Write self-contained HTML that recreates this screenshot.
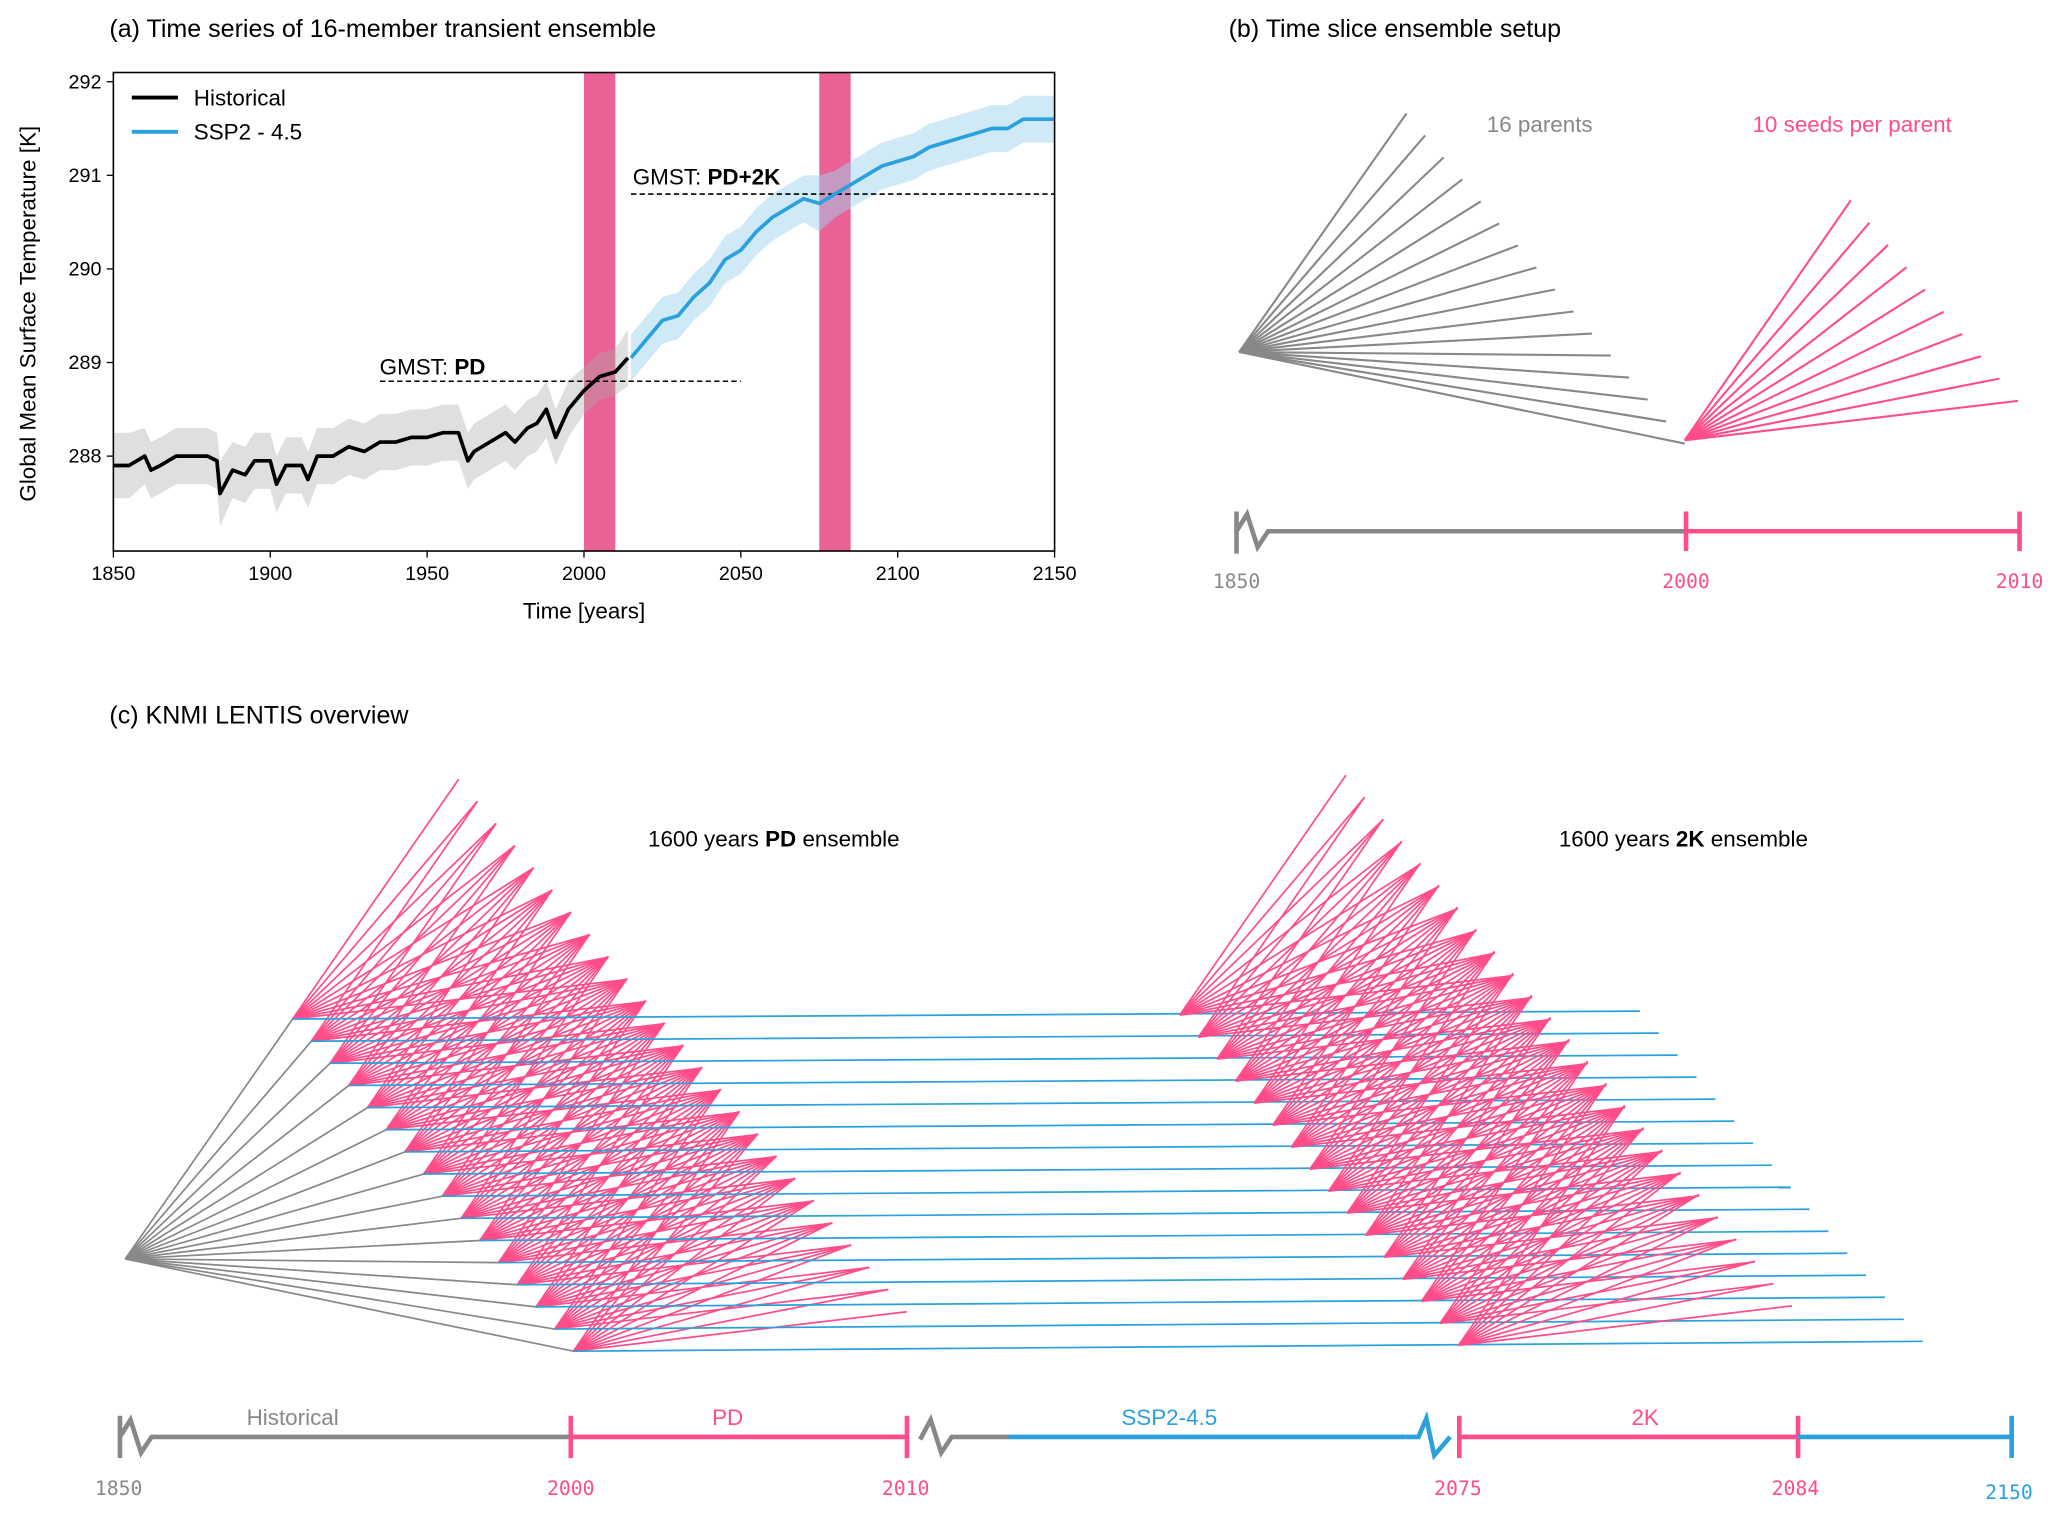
<!DOCTYPE html>
<html><head><meta charset="utf-8"><style>
html,body{margin:0;padding:0;background:#fff}
svg{display:block;font-family:"Liberation Sans",sans-serif}
.mono{font-family:"DejaVu Sans Mono","Liberation Mono",monospace}
</style></head><body>
<svg id="fig" width="2067" height="1514" viewBox="0 0 1568 1148.5" xmlns="http://www.w3.org/2000/svg">
<g id="pa">
<text x="83" y="28" font-size="19">(a) Time series of 16-member transient ensemble</text>
<g id="bands"></g>
<g id="series"></g>
<rect x="86" y="55" width="714" height="363" fill="none" stroke="#000" stroke-width="1.2"/>
<g id="axes"></g>
<text transform="translate(27,238) rotate(-90)" text-anchor="middle" font-size="17">Global Mean Surface Temperature [K]</text>
<text x="443" y="469" text-anchor="middle" font-size="17">Time [years]</text>
<g>
<line x1="100" y1="74" x2="135" y2="74" stroke="#000" stroke-width="3"/>
<text x="147" y="80" font-size="17">Historical</text>
<line x1="100" y1="100" x2="135" y2="100" stroke="#2aa0dc" stroke-width="3"/>
<text x="147" y="106" font-size="17">SSP2 - 4.5</text>
</g>
<text x="288" y="284" font-size="17">GMST: <tspan font-weight="bold">PD</tspan></text>
<text x="480" y="140" font-size="17">GMST: <tspan font-weight="bold">PD+2K</tspan></text>
</g>
<g id="pb">
<text x="932" y="28" font-size="19">(b) Time slice ensemble setup</text>
<text x="1168" y="100" text-anchor="middle" font-size="17" fill="#888">16 parents</text>
<text x="1405" y="100" text-anchor="middle" font-size="17" fill="#ff4d8a">10 seeds per parent</text>
<g id="bfan"></g>
<g>
<polyline points="938,420 938,388 938,403 946,390 954,415 962,403 978,403 1278,403" fill="none" stroke="#888" stroke-width="3.5"/>
<line x1="1278" y1="403" x2="1532" y2="403" stroke="#ff4d8a" stroke-width="3.5"/>
<line x1="1279" y1="388" x2="1279" y2="418" stroke="#ff4d8a" stroke-width="3.5"/>
<line x1="1532" y1="388" x2="1532" y2="418" stroke="#ff4d8a" stroke-width="3.5"/>
<text class="mono" x="938" y="446" text-anchor="middle" font-size="15" fill="#888">1850</text>
<text class="mono" x="1279" y="446" text-anchor="middle" font-size="15" fill="#ff4d8a">2000</text>
<text class="mono" x="1532" y="446" text-anchor="middle" font-size="15" fill="#ff4d8a">2010</text>
</g>
</g>
<g id="pc">
<text x="83" y="549" font-size="19">(c) KNMI LENTIS overview</text>
<text x="587" y="642" text-anchor="middle" font-size="17">1600 years <tspan font-weight="bold">PD</tspan> ensemble</text>
<text x="1277" y="642" text-anchor="middle" font-size="17">1600 years <tspan font-weight="bold">2K</tspan> ensemble</text>
<g id="cfan"></g>
<g>
<polyline points="91,1106 91,1074 91,1090 99,1077 107,1102 115,1090 131,1090 433,1090" fill="none" stroke="#888" stroke-width="3.5"/>
<line x1="433" y1="1090" x2="688" y2="1090" stroke="#ff4d8a" stroke-width="3.5"/>
<line x1="433" y1="1074" x2="433" y2="1106" stroke="#ff4d8a" stroke-width="3.5"/>
<line x1="688" y1="1074" x2="688" y2="1106" stroke="#ff4d8a" stroke-width="3.5"/>
<polyline points="698,1092 706,1077 714,1102 722,1090 765,1090" fill="none" stroke="#888" stroke-width="3.5"/>
<line x1="765" y1="1090" x2="1066" y2="1090" stroke="#2aa0dc" stroke-width="3.5"/>
<polyline points="1066,1090 1076,1090 1082,1076 1088,1104 1100,1090" fill="none" stroke="#2aa0dc" stroke-width="3.5"/>
<line x1="1107" y1="1090" x2="1364" y2="1090" stroke="#ff4d8a" stroke-width="3.5"/>
<line x1="1107" y1="1074" x2="1107" y2="1106" stroke="#ff4d8a" stroke-width="3.5"/>
<line x1="1364" y1="1074" x2="1364" y2="1106" stroke="#ff4d8a" stroke-width="3.5"/>
<line x1="1364" y1="1090" x2="1526" y2="1090" stroke="#2aa0dc" stroke-width="3.5"/>
<line x1="1526" y1="1074" x2="1526" y2="1106" stroke="#2aa0dc" stroke-width="3.5"/>
<text x="222" y="1081" text-anchor="middle" font-size="17" fill="#888">Historical</text>
<text x="552" y="1081" text-anchor="middle" font-size="17" fill="#ff4d8a">PD</text>
<text x="887" y="1081" text-anchor="middle" font-size="17" fill="#2aa0dc">SSP2-4.5</text>
<text x="1248" y="1081" text-anchor="middle" font-size="17" fill="#ff4d8a">2K</text>
<text class="mono" x="90" y="1134" text-anchor="middle" font-size="15" fill="#888">1850</text>
<text class="mono" x="433" y="1134" text-anchor="middle" font-size="15" fill="#ff4d8a">2000</text>
<text class="mono" x="687" y="1134" text-anchor="middle" font-size="15" fill="#ff4d8a">2010</text>
<text class="mono" x="1106" y="1134" text-anchor="middle" font-size="15" fill="#ff4d8a">2075</text>
<text class="mono" x="1362" y="1134" text-anchor="middle" font-size="15" fill="#ff4d8a">2084</text>
<text class="mono" x="1524" y="1137" text-anchor="middle" font-size="15" fill="#2aa0dc">2150</text>
</g>
</g>
</svg>
<script>
const histYears=[1850,1855,1860,1862,1865,1870,1875,1880,1883,1884,1888,1892,1895,1900,1902,1905,1910,1912,1915,1920,1925,1930,1935,1940,1945,1950,1955,1960,1963,1965,1970,1975,1978,1982,1985,1988,1991,1995,2000,2005,2010,2014];
const histMean=[287.9,287.9,288.0,287.85,287.9,288.0,288.0,288.0,287.95,287.6,287.85,287.8,287.95,287.95,287.7,287.9,287.9,287.75,288.0,288.0,288.1,288.05,288.15,288.15,288.2,288.2,288.25,288.25,287.95,288.05,288.15,288.25,288.15,288.3,288.35,288.5,288.2,288.5,288.7,288.85,288.9,289.05];
const histSpread=[0.35,0.35,0.3,0.3,0.3,0.3,0.3,0.3,0.3,0.35,0.3,0.3,0.3,0.3,0.3,0.3,0.3,0.3,0.3,0.3,0.3,0.3,0.3,0.3,0.3,0.3,0.3,0.3,0.3,0.3,0.3,0.3,0.3,0.3,0.3,0.3,0.3,0.3,0.25,0.25,0.25,0.3];
const sspYears=[2015,2020,2025,2030,2035,2040,2045,2050,2055,2060,2065,2070,2075,2080,2085,2090,2095,2100,2105,2110,2115,2120,2125,2130,2135,2140,2145,2150];
const sspMean=[289.05,289.25,289.45,289.5,289.7,289.85,290.1,290.2,290.4,290.55,290.65,290.75,290.7,290.8,290.9,291.0,291.1,291.15,291.2,291.3,291.35,291.4,291.45,291.5,291.5,291.6,291.6,291.6];
const sspSpread=[0.25,0.25,0.25,0.25,0.25,0.25,0.25,0.25,0.25,0.25,0.25,0.25,0.3,0.25,0.25,0.25,0.25,0.25,0.25,0.25,0.25,0.25,0.25,0.25,0.25,0.25,0.25,0.25];
const xTicks=[1850,1900,1950,2000,2050,2100,2150];
const yTicks=[288,289,290,291,292];
const bandSpans=[[2000,2010],[2075,2085]];
const gmstLines=[[1935,2050,288.8],[2015,2150,290.8]];
const nParents=16, nSeeds=10;

const NS='http://www.w3.org/2000/svg';
const X=y=>86+(y-1850)*(714/300);
const Y=v=>346-(v-288)*71;
function mk(tag,parent,at){const e=document.createElementNS(NS,tag);for(const k in at)e.setAttribute(k,at[k]);parent.appendChild(e);return e;}
const bands=document.getElementById('bands'), ser=document.getElementById('series'), ax=document.getElementById('axes');
bandSpans.forEach(b=>{const r=mk('rect',bands,{x:X(b[0]),y:55,width:X(b[1])-X(b[0]),height:363,fill:'#e8508a',opacity:0.9});

});
function area(years,mean,spr,fill,op){
 let d='';years.forEach((t,i)=>{d+=(i?'L':'M')+X(t)+','+Y(mean[i]+spr[i]);});
 for(let i=years.length-1;i>=0;i--)d+='L'+X(years[i])+','+Y(mean[i]-spr[i]);
 const p=mk('path',ser,{d:d+'Z',fill:fill,opacity:op});
 
 }
function line(years,mean,col,w){
 const p=mk('polyline',ser,{points:years.map((t,i)=>X(t)+','+Y(mean[i])).join(' '),fill:'none',stroke:col,'stroke-width':w,'stroke-linejoin':'round'});
 
 }
area(histYears,histMean,histSpread,'#aaa',0.38);
area(sspYears,sspMean,sspSpread,'#9fd3f0',0.5);
gmstLines.forEach(g=>{const l=mk('line',ser,{x1:X(g[0]),x2:X(g[1]),y1:Y(g[2]),y2:Y(g[2]),stroke:'#000','stroke-width':1.2,'stroke-dasharray':'4,2.5'});

});
line(histYears,histMean,'#000',2.8);
line(sspYears,sspMean,'#2aa0dc',2.8);
xTicks.forEach(t=>{mk('line',ax,{x1:X(t),x2:X(t),y1:418,y2:423,stroke:'#000'});
const tx=mk('text',ax,{x:X(t),y:440,'text-anchor':'middle','font-size':15});tx.textContent=t;

});
yTicks.forEach(t=>{mk('line',ax,{x1:81,x2:86,y1:Y(t),y2:Y(t),stroke:'#000'});
const tx=mk('text',ax,{x:77,y:Y(t)+5,'text-anchor':'end','font-size':15});tx.textContent=t;

});

// panel b
const bf=document.getElementById('bfan');
for(let i=0;i<nParents;i++){const l=mk('line',bf,{x1:940,y1:267,x2:1067+14.07*i,y2:86+16.7*i,stroke:'#888','stroke-width':1.6});

}
for(let j=0;j<nSeeds;j++){const l=mk('line',bf,{x1:1278,y1:334,x2:1278+126+14.1*j,y2:334-182+16.9*j,stroke:'#ff4d8a','stroke-width':1.6});

}

// panel c
const cf=document.getElementById('cfan');
const gG=mk('g',cf,{}),gP=mk('g',cf,{}),gB=mk('g',cf,{}),gK=mk('g',cf,{});
for(let i=0;i<nParents;i++){
 const px=222+14.2*i, py=773+16.8*i, kx=895+14.1*i, ky=770+16.7*i;
 const g=mk('line',gG,{x1:95,y1:955,x2:px,y2:py,stroke:'#888','stroke-width':1.3});
 
 
 const b=mk('line',gB,{x1:px,y1:py,x2:1244+14.3*i,y2:767+16.7*i,stroke:'#2aa0dc','stroke-width':1.3});
 
 
 for(let j=0;j<nSeeds;j++){
  const dx=126+14.1*j, dy=-182+16.9*j;
  const a=mk('line',gP,{x1:px,y1:py,x2:px+dx,y2:py+dy,stroke:'#ff4d8a','stroke-width':1.3});
  
  
  const c=mk('line',gK,{x1:kx,y1:ky,x2:kx+dx,y2:ky+dy,stroke:'#ff4d8a','stroke-width':1.3});
  
  
 }
}
</script>
</body></html>
